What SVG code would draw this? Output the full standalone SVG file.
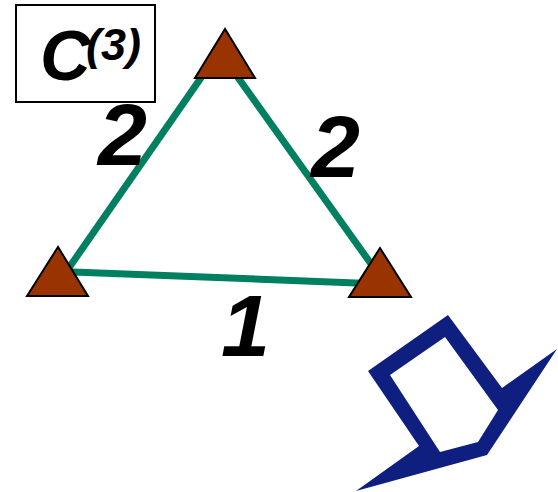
<svg xmlns="http://www.w3.org/2000/svg" width="558" height="492" viewBox="0 0 558 492">
<style>
.lbl{font-family:"Liberation Sans",Arial,sans-serif;font-weight:bold;font-style:italic;fill:#000}
.edge{stroke:#008060;stroke-width:7;fill:none}
.tri{fill:#993300;stroke:#000;stroke-width:2;stroke-linejoin:miter}
</style>
<rect width="558" height="492" fill="#fff"/>
<g id="title">
<rect x="16" y="5" width="139" height="97" fill="#fff" stroke="#000" stroke-width="2"/>
<text class="lbl" x="40" y="80" font-size="70">C</text>
<text class="lbl" x="86" y="60" font-size="45">(3)</text>
</g>
<g id="connectors">
<line class="edge" x1="212" y1="62" x2="66" y2="272"/>
<line class="edge" x1="229" y1="65" x2="374" y2="268"/>
<line class="edge" x1="60" y1="271.5" x2="375" y2="283.7"/>
</g>
<g id="label-left"><text class="lbl" x="98" y="165" font-size="88">2</text></g>
<g id="label-right"><text class="lbl" x="311" y="177" font-size="88">2</text></g>
<g id="label-bottom"><text class="lbl" x="221" y="356" font-size="88">1</text></g>
<g id="node-top"><polygon class="tri" points="225,29 195,78 255,78"/></g>
<g id="node-left"><polygon class="tri" points="58,247 27,296 88,296"/></g>
<g id="node-right"><polygon class="tri" points="380,248 349,297 411,297"/></g>
<g id="arrow">
<path fill="#0f1f7f" fill-rule="evenodd" d="M368,371 L448,315 L502,388 L557,349 L487,455 L356,491 L419,446 Z M390,375 L445,337 L498,410 L478,442 L440,452 Z"/>
</g>
</svg>
